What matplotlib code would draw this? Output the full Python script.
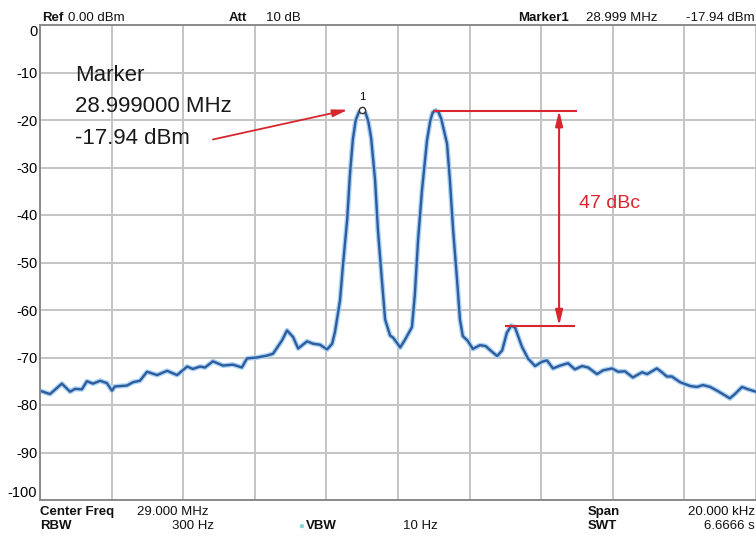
import matplotlib.pyplot as plt

# spectrum trace, offset from centre frequency (kHz) and level (dBm)
freq_khz = [
    -10.0, -9.72, -9.39, -9.16, -9.02, -8.83, -8.69, -8.52, -8.32, -8.13,
    -7.99, -7.91, -7.57, -7.40, -7.21, -7.01, -6.73, -6.45, -6.17, -5.89,
    -5.73, -5.53, -5.39, -5.17, -4.89, -4.61, -4.36, -4.22, -3.94, -3.66,
    -3.49, -3.24, -3.10, -2.93, -2.79, -2.54, -2.37, -2.18, -1.98, -1.84,
    -1.76, -1.62, -1.54, -1.42, -1.34, -1.26, -1.18, -1.09, -1.00, -0.91,
    -0.83, -0.75, -0.64, -0.56, -0.45, -0.36, -0.22, -0.14, -0.03, 0.06,
    0.20, 0.39, 0.47, 0.56, 0.67, 0.81, 0.90, 0.97, 1.05, 1.13,
    1.21, 1.37, 1.45, 1.54, 1.65, 1.73, 1.81, 1.95, 2.09, 2.29,
    2.45, 2.55, 2.77, 2.91, 3.04, 3.16, 3.27, 3.46, 3.63, 3.83,
    4.02, 4.16, 4.33, 4.53, 4.75, 4.94, 5.14, 5.31, 5.56, 5.73,
    5.98, 6.15, 6.34, 6.56, 6.82, 6.96, 7.23, 7.37, 7.51, 7.65,
    7.88, 8.16, 8.35, 8.52, 8.72, 8.94, 9.27, 9.41, 9.61, 9.78,
    10.0,
]
level_dbm = [
    -77.0, -77.7, -75.5, -77.2, -76.6, -76.7, -75.0, -75.5, -74.9, -75.4,
    -77.0, -76.1, -75.9, -75.2, -74.9, -73.0, -73.7, -72.8, -73.7, -71.9,
    -72.4, -71.9, -72.1, -70.8, -71.7, -71.5, -72.1, -70.2, -70.0, -69.6,
    -69.2, -66.4, -64.3, -65.7, -68.1, -66.6, -67.1, -67.3, -68.3, -67.1,
    -64.6, -58.0, -50.8, -41.0, -31.2, -24.0, -20.0, -18.3, -17.94, -18.4,
    -20.3, -23.8, -32.7, -43.2, -53.7, -62.0, -65.4, -65.8, -66.9, -67.9,
    -66.2, -63.6, -56.8, -45.3, -34.8, -24.3, -20.2, -18.4, -18.0, -18.3,
    -19.8, -25.0, -32.7, -43.2, -53.7, -62.0, -65.5, -66.5, -68.2, -67.4,
    -67.6, -68.3, -69.7, -68.5, -64.8, -63.3, -63.7, -67.7, -70.2, -71.8,
    -70.9, -70.6, -72.3, -71.7, -71.2, -72.5, -71.8, -72.1, -73.5, -72.7,
    -72.3, -73.0, -72.9, -74.2, -73.1, -73.5, -72.3, -73.1, -74.0, -74.0,
    -75.2, -76.0, -76.2, -75.8, -76.2, -77.1, -78.6, -77.7, -76.2, -76.7,
    -77.2,
]

y_ticks = [0, -10, -20, -30, -40, -50, -60, -70, -80, -90, -100]
x_ticks = [-10, -8, -6, -4, -2, 0, 2, 4, 6, 8, 10]

marker_khz = -1.0
marker_dbm = -17.94
marker_lines = ["Marker", "28.999000 MHz", "-17.94 dBm"]
dbc_label = "47 dBc"

# header / footer readouts: (text, x px, y px, bold, align)
header = [
    ("Ref", 42, 18, True, "left"),
    ("0.00 dBm", 68, 18, False, "left"),
    ("Att", 229, 18, True, "left"),
    ("10 dB", 266, 18, False, "left"),
    ("Marker1", 518, 18, True, "left"),
    ("28.999 MHz", 586, 18, False, "left"),
    ("-17.94 dBm", 755, 18, False, "right"),
    ("Center Freq", 40, 512, True, "left"),
    ("29.000 MHz", 137, 512, False, "left"),
    ("RBW", 40, 526, True, "left"),
    ("300 Hz", 214, 526, False, "right"),
    ("VBW", 306, 526, True, "left"),
    ("10 Hz", 403, 526, False, "left"),
    ("Span", 588, 512, True, "left"),
    ("20.000 kHz", 755, 512, False, "right"),
    ("SWT", 588, 526, True, "left"),
    ("6.6666 s", 755, 526, False, "right"),
]

W, H = 756, 538
RED = "#d8262f"
plt.rcParams["font.family"] = ["Liberation Sans", "DejaVu Sans"]
plt.rcParams["axes.unicode_minus"] = False

fig = plt.figure(figsize=(W / 100, H / 100), dpi=100)
ax = fig.add_axes([40 / W, 1 - 500 / H, 716 / W, 475 / H])

ax.set_xlim(-10, 10)
ax.set_ylim(-100, 0)
ax.set_xticks(x_ticks)
ax.set_yticks(y_ticks)
ax.set_xticklabels([])
ax.grid(True, color="#c4c4c4", lw=1.4)
ax.set_axisbelow(True)
ax.tick_params(length=0, pad=2, labelsize=10.5)
labels = ax.get_yticklabels()
labels[0].set_va("top")
labels[-1].set_va("bottom")
for side in ["left", "bottom", "top"]:
    ax.spines[side].set_color("#8a8a8a")
    ax.spines[side].set_linewidth(1.4)
ax.spines["right"].set_visible(False)

# trace with a light glow underneath
ax.plot(freq_khz, level_dbm, color="#a9d3f5", lw=3.6, solid_joinstyle="round")
ax.plot(freq_khz, level_dbm, color="#2f5c9c", lw=1.7, solid_joinstyle="round")

# marker 1
ax.plot([marker_khz], [marker_dbm], "o", ms=4.5, mfc="white", mec="#333333", mew=1)
ax.annotate("1", (marker_khz, marker_dbm), xytext=(0, 6), textcoords="offset points",
            ha="center", va="bottom", fontsize=8)

# peak / spur levels for dBc annotation
peak2 = max(l for f, l in zip(freq_khz, level_dbm) if f > 0)
peak2_f = [f for f, l in zip(freq_khz, level_dbm) if l == peak2][0]
spur = max(l for f, l in zip(freq_khz, level_dbm) if f > 2.5)
spur_f = [f for f, l in zip(freq_khz, level_dbm) if l == spur][0]
arrow_x = 4.5

ax.hlines(peak2, peak2_f - 0.07, 5.0, color=RED, lw=1.5)
ax.hlines(spur, spur_f - 0.17, 4.94, color=RED, lw=1.5)
ax.annotate("", xy=(arrow_x, spur), xytext=(arrow_x, peak2),
            arrowprops=dict(arrowstyle="<|-|>,head_length=0.9,head_width=0.22",
                            color=RED, lw=1.5, shrinkA=0, shrinkB=0))
ax.text(5.05, (peak2 + spur) / 2 + 3, dbc_label, color=RED, fontsize=14,
        ha="left", va="center")

# marker readout text and arrow
for i, line in enumerate(marker_lines):
    ax.text(-9.03, -10.6 - i * 6.6, line, fontsize=16, ha="left", va="center",
            color="#1a1a1a")
ax.annotate("", xy=(marker_khz - 0.4, marker_dbm + 0.1), xytext=(-5.17, -24.1),
            arrowprops=dict(arrowstyle="-|>,head_length=0.9,head_width=0.22",
                            color=RED, lw=1.3, shrinkA=0, shrinkB=0))

for text, x, y, bold, align in header:
    fig.text(x / W, 1 - y / H, text, fontsize=9.5, ha=align, va="center",
             fontweight="bold" if bold else "normal", color="#111111")
fig.text(301 / W, 1 - 526 / H, "\u25cf", fontsize=7, color="#7fd6d6",
         ha="center", va="center")

fig.savefig("out.png", dpi=100)
